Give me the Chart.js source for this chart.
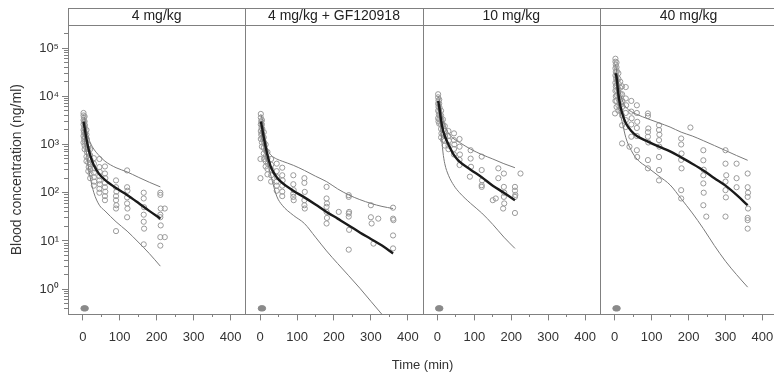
<!DOCTYPE html>
<html>
<head>
<meta charset="utf-8">
<script src="https://cdn.jsdelivr.net/npm/chart.js@4.4.0/dist/chart.umd.min.js"></script>
<style>
  html, body { margin: 0; padding: 0; background: #fff; overflow: hidden; }
  #wrap { position: relative; width: 774px; height: 373px; overflow: hidden; }
</style>
</head>
<body>
<div id="wrap"><canvas id="chart_pk" width="790" height="373"></canvas></div>
<script>
// panel headers
const panels = ['4 mg/kg', '4 mg/kg + GF120918', '10 mg/kg', '40 mg/kg'];

// axis ticks
const xTickValues = [0, 50, 100, 150, 200, 250, 300, 350, 400];
const yDecades = [-1, 0, 1, 2, 3, 4, 5];
const supDigits = ['\u2070', '\u00b9', '\u00b2', '\u00b3', '\u2074', '\u2075'];

// below-limit observations (drawn filled at the bottom)
const blqPoints = [[2, 0.4], [5, 0.4], [8, 0.4]];

// ---- 4 mg/kg ----
const predT1 = [2, 5, 10, 15, 20, 30, 45, 60, 90, 120, 150, 180, 210];
const med1 = [3000, 2200, 1300, 850, 600, 370, 240, 185, 125, 90, 62, 42, 29];
const hi1 = [4000, 3500, 2000, 1400, 1100, 800, 580, 450, 330, 270, 210, 165, 132];
const lo1 = [2000, 1200, 650, 350, 210, 100, 55, 42, 25, 16, 9.5, 5.5, 3.0];
const obs1 = [
  [2,4500],[2,4000],[3,3600],[2,3200],[3,2900],[2,2600],[4,2300],[2,2000],[3,1800],[2,1500],[4,1300],[2,1100],
  [5,3800],[5,3000],[6,2500],[5,2100],[6,1700],[5,1400],[6,1150],[5,950],[5,800],
  [10,2000],[10,1600],[11,1300],[10,1050],[10,850],[11,700],[10,560],[10,450],
  [15,1000],[15,800],[16,650],[15,520],[15,420],[16,340],[15,280],
  [20,800],[20,600],[21,480],[20,390],[20,310],[21,250],[20,200],
  [30,520],[30,400],[31,320],[30,260],[30,210],[31,170],[30,140],
  [45,500],[45,340],[46,270],[45,220],[45,180],[46,150],[45,120],[45,100],
  [60,350],[60,250],[61,200],[60,160],[60,130],[61,105],[60,85],[60,70],
  [90,180],[90,130],[91,105],[90,85],[90,70],[91,55],[90,47],[90,16],
  [120,290],[120,130],[121,110],[120,80],[120,60],[121,47],[120,31],
  [165,100],[165,76],[166,50],[165,35],[165,25],[166,18],[165,8.5],
  [210,100],[210,90],[211,47],[210,35],[210,31],[211,21],[210,12],[210,8],[222,47],[222,12]
];

// ---- 4 mg/kg + GF120918 ----
const predT2 = [2, 5, 10, 15, 20, 30, 45, 60, 90, 120, 150, 180, 210, 240, 270, 300, 330, 360];
const med2 = [3000, 2300, 1400, 900, 600, 330, 210, 160, 110, 80, 57, 40, 29, 21, 15, 11, 8, 5.5];
const hi2 = [4200, 3500, 2000, 1200, 800, 600, 500, 450, 370, 290, 220, 170, 120, 90, 72, 60, 52, 47];
const lo2 = [2000, 1400, 900, 600, 430, 215, 85, 55, 34, 23, 12, 6.2, 3.4, 1.9, 1.05, 0.56, 0.3, 0.16];
const obs2 = [
  [2,4300],[2,3600],[3,3000],[2,2600],[4,2200],[2,1900],[3,1600],[2,1300],[1,500],[1,200],
  [5,3200],[5,2600],[6,2100],[5,1700],[6,1400],[5,1100],[5,900],
  [10,1800],[10,1400],[11,1100],[10,850],[10,650],[11,500],
  [15,1000],[15,750],[16,580],[15,450],[15,350],
  [20,700],[20,520],[21,400],[20,310],[20,240],
  [30,500],[30,380],[31,300],[30,230],[30,170],
  [45,400],[45,280],[46,210],[45,170],[45,140],[45,110],
  [60,330],[60,230],[61,180],[60,140],[60,105],[60,85],
  [90,230],[90,150],[91,113],[90,95],[90,82],[91,70],
  [120,200],[120,160],[121,104],[120,70],[120,55],[121,47],
  [180,132],[180,76],[181,60],[180,51],[180,40],[181,30],[180,23],[213,40],
  [240,89],[240,82],[241,40],[240,37],[240,32],[241,17],[240,6.6],
  [300,55],[300,31],[302,23],[320,29],[307,8.8],
  [360,49],[360,29],[361,27],[360,13],[360,7]
];

// ---- 10 mg/kg ----
const predT3 = [2, 5, 10, 15, 20, 30, 45, 60, 90, 120, 150, 180, 210];
const med3 = [8000, 6000, 3200, 2000, 1500, 1000, 600, 440, 300, 210, 140, 100, 70];
const hi3 = [10000, 8500, 5000, 3200, 2500, 1700, 1300, 1100, 800, 620, 500, 400, 330];
const lo3 = [6000, 4500, 1800, 700, 400, 230, 140, 100, 60, 38, 22, 12, 7];
const obs3 = [
  [2,11000],[2,9500],[3,8200],[2,7000],[3,6000],[2,5000],[4,4200],[2,3500],[3,3000],
  [5,8500],[5,7000],[6,5800],[5,4800],[6,4000],[5,3300],[5,2700],
  [10,5000],[10,4000],[11,3200],[10,2600],[10,2100],[11,1700],[10,1400],
  [15,3300],[15,2600],[16,2000],[15,1600],[15,1250],
  [20,2400],[20,1900],[21,1500],[20,1200],[20,950],
  [30,1900],[30,1500],[31,1200],[30,950],[30,800],
  [45,1700],[45,1230],[46,1000],[45,810],[45,620],
  [60,1300],[60,900],[61,620],[60,480],[60,375],
  [90,760],[90,510],[91,345],[88,215],
  [120,560],[120,295],[121,180],[120,143],[120,132],
  [165,320],[165,200],[158,76],[150,70],
  [180,250],[180,132],[181,100],[180,82],[181,60],[178,47],
  [210,132],[210,110],[211,90],[210,82],[210,38],[225,250]
];

// ---- 40 mg/kg ----
const predT4 = [2, 5, 10, 15, 20, 30, 45, 60, 90, 120, 150, 180, 210, 240, 270, 300, 330, 360];
const med4 = [30000, 25000, 11000, 6500, 4500, 2800, 1900, 1500, 1150, 900, 720, 540, 400, 290, 200, 140, 90, 55];
const hi4 = [45000, 35000, 20000, 12000, 8500, 6000, 4800, 4200, 3400, 2800, 2300, 1800, 1500, 1200, 950, 750, 590, 470];
const lo4 = [25000, 15000, 7000, 4300, 3000, 1400, 750, 500, 330, 220, 145, 75, 38, 18, 8, 3.8, 2.0, 1.1];
const obs4 = [
  [2,60000],[2,52000],[3,45000],[2,38000],[3,32000],[2,27000],[4,23000],[2,19000],[3,16000],[2,13000],[3,10000],[2,8000],[1,4400],
  [5,50000],[5,40000],[6,33000],[5,26000],[6,21000],[5,17000],[5,13500],[6,10500],[5,8000],[5,6000],
  [10,30000],[10,23000],[11,18000],[10,14000],[10,11000],[11,8500],[10,6500],[10,5000],
  [15,20000],[15,15000],[16,11000],[15,8500],[15,6500],[16,5000],
  [20,16000],[20,11000],[21,8000],[20,6000],[20,4000],[20,2500],[20,1050],
  [30,15500],[30,9000],[31,6500],[30,4500],[30,3200],[30,2300],
  [45,8000],[45,4800],[46,3500],[45,2600],[45,1450],[40,900],
  [60,6500],[60,4500],[61,2950],[60,2200],[60,1500],[60,760],[61,550],
  [90,4400],[90,3900],[91,2150],[90,1800],[90,1450],[91,1100],[90,475],[90,320],
  [120,2500],[120,2000],[121,1600],[120,1230],[121,900],[120,550],[120,295],[120,180],
  [180,1330],[180,1000],[181,650],[180,480],[181,320],[180,113],[180,76],[205,2250],
  [240,760],[240,470],[241,300],[240,230],[240,156],[241,100],[240,55],[248,32],
  [300,760],[300,400],[302,230],[300,170],[300,113],[301,80],[300,32],[330,400],[330,200],[330,130],
  [360,250],[360,130],[361,100],[360,82],[361,47],[360,30],[360,27],[360,18]
];

const groups = [
  { obs: obs1, t: predT1, med: med1, lo: lo1, hi: hi1 },
  { obs: obs2, t: predT2, med: med2, lo: lo2, hi: hi2 },
  { obs: obs3, t: predT3, med: med3, lo: lo3, hi: hi3 },
  { obs: obs4, t: predT4, med: med4, lo: lo4, hi: hi4 }
];

const frameColor = '#808080';
const textColor = '#333';

Chart.defaults.font.family = '"Liberation Sans", Arial, sans-serif';

const yTickValues = [];
yDecades.forEach(e => {
  for (let k = 1; k <= 9; k++) {
    const v = Number((k * Math.pow(10, e)).toPrecision(6));
    if (v > 0.3 && v < 300000) yTickValues.push(v);
  }
});
const isDecade = v => Math.abs(Math.log10(v) - Math.round(Math.log10(v))) < 1e-9;

const toXY = (t, v) => t.map((x, i) => ({ x: x, y: v[i] }));
const pairs = arr => arr.map(p => ({ x: p[0], y: p[1] }));

const datasets = [];
groups.forEach((g, i) => {
  const xid = 'x' + i;
  datasets.push({
    label: 'median ' + i, xAxisID: xid, yAxisID: 'y', order: 1,
    data: toXY(g.t, g.med), showLine: true, borderColor: '#1a1a1a', borderWidth: 2.4,
    pointRadius: 0, cubicInterpolationMode: 'monotone'
  });
  datasets.push({
    label: 'p95 ' + i, xAxisID: xid, yAxisID: 'y', order: 2,
    data: toXY(g.t, g.hi), showLine: true, borderColor: '#7a7a7a', borderWidth: 1,
    pointRadius: 0, cubicInterpolationMode: 'monotone'
  });
  datasets.push({
    label: 'p5 ' + i, xAxisID: xid, yAxisID: 'y', order: 2,
    data: toXY(g.t, g.lo), showLine: true, borderColor: '#7a7a7a', borderWidth: 1,
    pointRadius: 0, cubicInterpolationMode: 'monotone'
  });
  datasets.push({
    label: 'observed ' + i, xAxisID: xid, yAxisID: 'y', order: 3,
    data: pairs(g.obs), showLine: false, pointRadius: 2.6, pointBorderWidth: 1,
    pointBorderColor: '#9a9a9a', pointBackgroundColor: 'rgba(0,0,0,0)'
  });
  datasets.push({
    label: 'blq ' + i, xAxisID: xid, yAxisID: 'y', order: 3,
    data: pairs(blqPoints), showLine: false, pointRadius: 2.6, pointBorderWidth: 1,
    pointBorderColor: '#8a8a8a', pointBackgroundColor: '#8a8a8a'
  });
});

const scales = {
  y: {
    type: 'logarithmic', position: 'left', min: 0.3, max: 300000,
    afterBuildTicks: s => { s.ticks = yTickValues.map(v => ({ value: v })); },
    afterFit: s => { s.width = 68; },
    ticks: {
      autoSkip: false, padding: 3, color: textColor, font: { size: 13 },
      callback: v => isDecade(v) && v >= 1 ? '10' + supDigits[Math.round(Math.log10(v))] : ''
    },
    grid: {
      drawOnChartArea: false, tickLength: 6, tickColor: frameColor,
      tickBorderDash: c => (c.tick && !isDecade(c.tick.value)) ? [0, 2, 4, 0] : []
    },
    border: { display: false },
    title: { display: true, text: 'Blood concentration (ng/ml)', color: textColor, font: { size: 14 }, padding: { top: 9, bottom: 0 } }
  }
};
panels.forEach((name, i) => {
  scales['x' + i] = {
    type: 'linear', position: 'bottom', stack: 'panels', stackWeight: 1, min: -40, max: 440,
    afterBuildTicks: s => { s.ticks = xTickValues.map(v => ({ value: v })); },
    afterFit: s => { s.height = 40; },
    ticks: {
      autoSkip: false, maxRotation: 0, padding: 9, color: textColor, font: { size: 13 },
      callback: v => v % 100 === 0 ? String(v) : ''
    },
    grid: {
      drawOnChartArea: false, tickLength: 6, tickColor: frameColor,
      tickBorderDash: c => (c.tick && c.tick.value % 100) ? [3, 10] : []
    },
    border: { display: false }
  };
});
// top boxes are laid out in reverse order, so the strip axes are added last panel first
panels.slice().reverse().forEach((name, i) => {
  scales['s' + i] = {
    type: 'linear', position: 'top', stack: 'strips', stackWeight: 1,
    afterFit: s => { s.height = 17; },
    ticks: { display: false },
    grid: { display: false },
    border: { display: false },
    title: { display: true, text: name, color: '#222', font: { size: 14 }, padding: { top: 0, bottom: 0 } }
  };
});

// panel frames and strip boxes
const panelFrames = {
  id: 'panelFrames',
  afterDraw: (chart) => {
    const ctx = chart.ctx;
    const area = chart.chartArea;
    const top = Math.round(chart.scales.s0.top) + 0.5;
    const mid = Math.round(area.top) + 0.5;
    const bottom = Math.round(area.bottom) + 0.5;
    ctx.save();
    ctx.strokeStyle = frameColor;
    ctx.lineWidth = 1;
    panels.forEach((_, i) => {
      const s = chart.scales['x' + i];
      const l = Math.round(s.left) + 0.5;
      const r = Math.round(s.right) + 0.5;
      ctx.strokeRect(l, top, r - l, bottom - top);
      ctx.beginPath();
      ctx.moveTo(l, mid);
      ctx.lineTo(r, mid);
      ctx.stroke();
    });
    ctx.restore();
  }
};

var chart_pk = new Chart(document.getElementById('chart_pk'), {
  type: 'scatter',
  data: { datasets: datasets },
  options: {
    animation: false,
    responsive: false,
    layout: { padding: { left: 0, right: 10, top: 8, bottom: 0 } },
    plugins: {
      legend: { display: false },
      tooltip: { enabled: false },
      title: {
        display: true, position: 'bottom', fullSize: false, text: 'Time (min)',
        color: textColor, font: { size: 13, weight: 'normal' }, padding: { top: 3, bottom: 0 }
      }
    },
    scales: scales
  },
  plugins: [panelFrames]
});
</script>
</body>
</html>
